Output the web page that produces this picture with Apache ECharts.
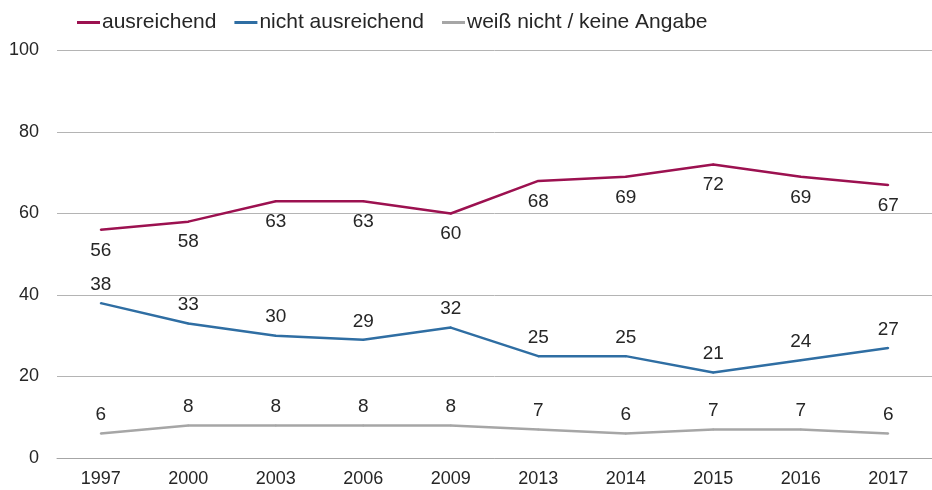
<!DOCTYPE html>
<html>
<head>
<meta charset="utf-8">
<script src="https://cdn.jsdelivr.net/npm/echarts@6/dist/echarts.min.js"></script>
<style>
  html, body { margin: 0; padding: 0; background: #fff; }
  #chart { width: 932px; height: 490px; }
</style>
</head>
<body>
<div id="chart"></div>
<script>
  // Jahre und Werte (in Prozent)
  const years = ['1997', '2000', '2003', '2006', '2009', '2013', '2014', '2015', '2016', '2017'];
  const ausreichend = [56, 58, 63, 63, 60, 68, 69, 72, 69, 67];
  const nichtAusreichend = [38, 33, 30, 29, 32, 25, 25, 21, 24, 27];
  const weissNicht = [6, 8, 8, 8, 8, 7, 6, 7, 7, 6];
  const yTicks = [0, 20, 40, 60, 80, 100];

  const font = 'Liberation Sans, Arial, sans-serif';
  const labelColor = '#262626';

  let chart = echarts.init(document.getElementById('chart'));

  function lineSeries(name, data, color, pos) {
    return {
      name: name,
      type: 'line',
      data: data,
      symbol: 'circle',
      symbolSize: 2,
      showSymbol: true,
      lineStyle: { color: color, width: 2.5 },
      itemStyle: { color: color },
      label: {
        show: true,
        position: pos,
        distance: pos === 'bottom' ? 10 : 8,
        color: labelColor,
        fontFamily: font,
        fontSize: 19
      },
      emphasis: { disabled: true }
    };
  }

  let option = {
    animation: false,
    legend: {
      left: 72,
      top: 7,
      icon: 'rect',
      itemWidth: 23,
      itemHeight: 3,
      itemGap: 18,
      textStyle: { color: labelColor, fontFamily: font, fontSize: 21, padding: [0, 0, 0, -3] },
      data: ['ausreichend', 'nicht ausreichend', 'weiß nicht / keine Angabe']
    },
    grid: { left: 57, top: 50.5, width: 887, height: 407.5 },
    xAxis: {
      type: 'category',
      boundaryGap: true,
      data: years,
      axisLine: { show: true, lineStyle: { color: '#a6a6a6', width: 1 } },
      axisTick: { show: false },
      axisLabel: { color: labelColor, fontFamily: font, fontSize: 18, margin: 12 }
    },
    yAxis: {
      type: 'value',
      min: yTicks[0],
      max: yTicks[yTicks.length - 1],
      interval: 20,
      axisLine: { show: false },
      axisTick: { show: false },
      axisLabel: { color: labelColor, fontFamily: font, fontSize: 18, margin: 18 },
      splitLine: { lineStyle: { color: '#b4b4b4', width: 1 } }
    },
    series: [
      lineSeries('ausreichend', ausreichend, '#9c1150', 'bottom'),
      lineSeries('nicht ausreichend', nichtAusreichend, '#2f6ea3', 'top'),
      lineSeries('weiß nicht / keine Angabe', weissNicht, '#a6a6a6', 'top')
    ]
  };

  chart.setOption(option);
</script>
</body>
</html>
